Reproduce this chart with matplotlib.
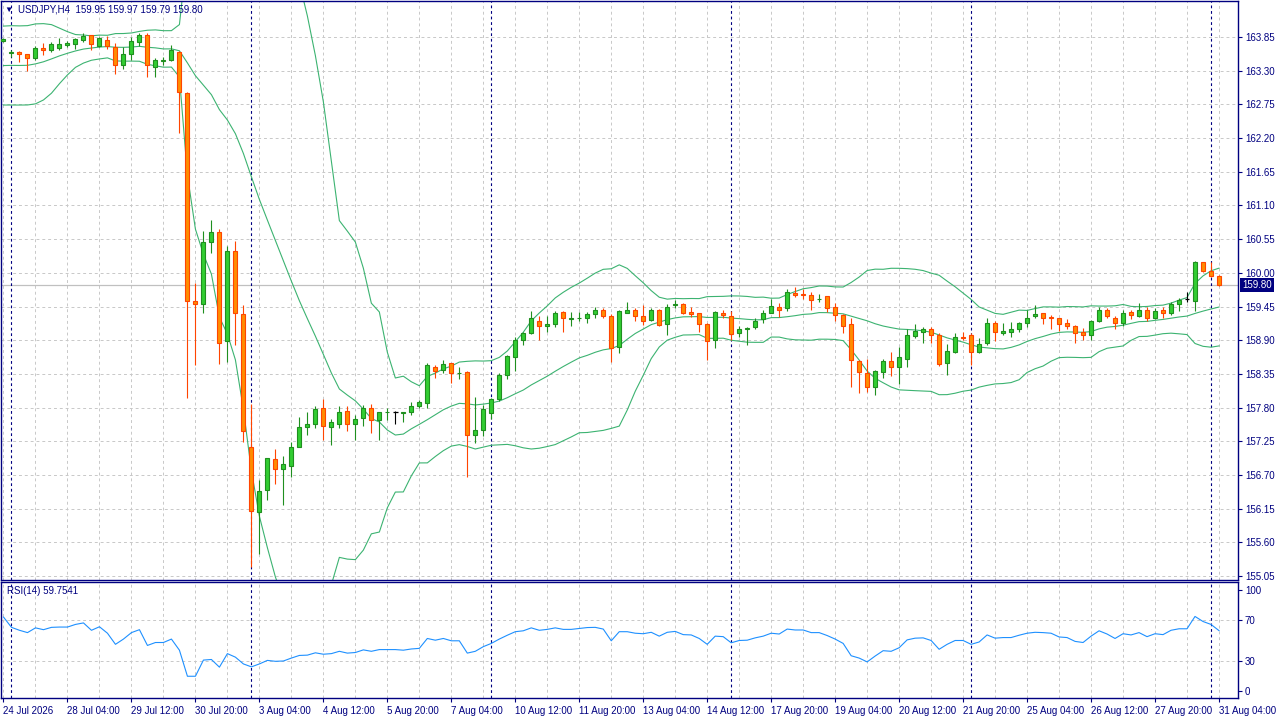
import numpy as np
import pandas as pd
import matplotlib
matplotlib.use("Agg")
import matplotlib.pyplot as plt
import matplotlib.transforms as mtransforms

plt.rcParams['font.family'] = ['Liberation Sans', 'DejaVu Sans']

symbol_title = "USDJPY,H4  159.95 159.97 159.79 159.80"
rsi_title = "RSI(14) 59.7541"
last_price = 159.80

opens = [163.78, 163.59, 163.61, 163.57, 163.50, 163.67, 163.64, 163.67, 163.72, 163.74,
         163.80, 163.88, 163.71, 163.80, 163.68, 163.40, 163.58, 163.77, 163.88, 163.36,
         163.46, 163.48, 163.61, 162.93, 159.54, 159.49, 160.51, 160.67, 158.88, 160.36,
         159.33, 157.15, 156.09, 156.45, 156.96, 156.80, 156.85, 157.16, 157.49, 157.53,
         157.79, 157.49, 157.54, 157.74, 157.54, 157.63, 157.79, 157.59, 157.72, 157.72,
         157.71, 157.72, 157.83, 157.87, 158.47, 158.41, 158.52, 158.36, 158.38, 157.36,
         157.44, 157.71, 157.94, 158.33, 158.63, 158.91, 159.01, 159.22, 159.13, 159.17,
         159.36, 159.25, 159.26, 159.27, 159.32, 159.40, 159.29, 158.79, 159.35, 159.40,
         159.29, 159.23, 159.40, 159.17, 159.47, 159.49, 159.36, 159.34, 159.17, 158.90,
         159.34, 159.29, 159.01, 159.09, 159.12, 159.24, 159.35, 159.45, 159.42, 159.67,
         159.66, 159.64, 159.57, 159.62, 159.44, 159.31, 159.16, 158.56, 158.36, 158.13,
         158.38, 158.56, 158.46, 158.60, 158.97, 159.03, 159.08, 158.99, 158.52, 158.71,
         158.96, 158.99, 158.71, 158.85, 159.18, 159.01, 159.04, 159.08, 159.18, 159.29,
         159.34, 159.28, 159.26, 159.18, 159.14, 159.03, 158.99, 159.22, 159.39, 159.27,
         159.18, 159.36, 159.30, 159.40, 159.27, 159.40, 159.34, 159.49, 159.57, 159.54,
         160.17, 160.03, 159.95]
highs = [163.83, 163.63, 163.62, 163.58, 163.71, 163.75, 163.77, 163.83, 163.79, 163.84,
         163.92, 163.89, 163.85, 163.87, 163.76, 163.69, 163.85, 163.91, 163.91, 163.50,
         163.53, 163.72, 163.62, 162.95, 159.83, 160.68, 160.86, 160.72, 160.44, 160.52,
         159.48, 157.86, 156.62, 156.98, 157.12, 157.01, 157.23, 157.65, 157.73, 157.83,
         157.94, 157.61, 157.83, 157.83, 157.68, 157.84, 157.86, 157.73, 157.80, 157.74,
         157.72, 157.89, 157.92, 158.53, 158.49, 158.57, 158.53, 158.46, 158.40, 157.97,
         157.85, 157.96, 158.36, 158.66, 158.95, 159.04, 159.37, 159.29, 159.29, 159.37,
         159.37, 159.36, 159.36, 159.36, 159.44, 159.42, 159.33, 159.39, 159.52, 159.42,
         159.47, 159.43, 159.41, 159.49, 159.56, 159.51, 159.44, 159.35, 159.18, 159.37,
         159.39, 159.38, 159.13, 159.12, 159.27, 159.39, 159.58, 159.50, 159.73, 159.77,
         159.73, 159.69, 159.66, 159.62, 159.50, 159.32, 159.26, 158.57, 158.59, 158.42,
         158.59, 158.71, 158.79, 159.08, 159.16, 159.11, 159.12, 159.02, 158.83, 159.01,
         159.03, 159.01, 158.94, 159.26, 159.21, 159.18, 159.19, 159.19, 159.39, 159.47,
         159.34, 159.31, 159.26, 159.25, 159.15, 159.10, 159.23, 159.44, 159.42, 159.29,
         159.39, 159.39, 159.51, 159.45, 159.43, 159.45, 159.52, 159.59, 159.68, 160.20,
         160.18, 160.18, 159.97]
lows = [163.77, 163.53, 163.44, 163.30, 163.47, 163.56, 163.61, 163.64, 163.68, 163.65,
        163.77, 163.63, 163.69, 163.66, 163.25, 163.32, 163.47, 163.71, 163.20, 163.19,
        163.40, 163.46, 162.29, 157.95, 158.50, 159.35, 160.33, 158.51, 158.55, 158.82,
        157.23, 155.20, 155.41, 156.29, 156.56, 156.21, 156.66, 157.15, 157.35, 157.47,
        157.27, 157.19, 157.46, 157.42, 157.27, 157.50, 157.39, 157.27, 157.59, 157.53,
        157.57, 157.68, 157.79, 157.80, 158.28, 158.36, 158.20, 158.26, 156.67, 157.22,
        157.34, 157.61, 157.90, 158.27, 158.39, 158.82, 159.00, 158.90, 159.04, 159.12,
        159.04, 159.14, 159.21, 159.18, 159.27, 159.27, 158.54, 158.69, 159.34, 159.22,
        159.15, 159.22, 159.14, 158.98, 159.42, 159.32, 159.28, 159.03, 158.58, 158.78,
        159.26, 158.91, 158.95, 158.82, 159.08, 159.18, 159.34, 159.28, 159.38, 159.60,
        159.57, 159.39, 159.52, 159.36, 159.22, 159.02, 158.14, 158.03, 158.06, 158.00,
        158.29, 158.32, 158.18, 158.47, 158.94, 158.85, 158.86, 158.48, 158.33, 158.69,
        158.90, 158.49, 158.69, 158.82, 158.88, 158.98, 158.96, 159.03, 159.11, 159.27,
        159.16, 159.09, 159.05, 159.09, 158.86, 158.91, 158.91, 159.20, 159.26, 159.09,
        159.13, 159.25, 159.28, 159.22, 159.25, 159.27, 159.31, 159.38, 159.53, 159.37,
        160.02, 159.94, 159.79]
closes = [163.82, 163.61, 163.57, 163.50, 163.67, 163.63, 163.74, 163.74, 163.75, 163.81,
          163.87, 163.73, 163.83, 163.70, 163.40, 163.57, 163.78, 163.88, 163.39, 163.47,
          163.47, 163.63, 162.95, 159.54, 159.49, 160.51, 160.66, 158.86, 160.35, 159.35,
          157.41, 156.11, 156.43, 156.97, 156.79, 156.88, 157.15, 157.48, 157.53, 157.78,
          157.50, 157.56, 157.72, 157.54, 157.62, 157.80, 157.60, 157.72, 157.73, 157.72,
          157.72, 157.83, 157.89, 158.49, 158.39, 158.51, 158.36, 158.37, 157.36, 157.43,
          157.77, 157.94, 158.33, 158.65, 158.91, 159.01, 159.27, 159.13, 159.17, 159.34,
          159.26, 159.26, 159.27, 159.33, 159.39, 159.30, 158.78, 159.38, 159.40, 159.30,
          159.22, 159.39, 159.15, 159.45, 159.49, 159.35, 159.32, 159.16, 158.88, 159.36,
          159.31, 159.00, 159.09, 159.10, 159.22, 159.34, 159.46, 159.40, 159.68, 159.64,
          159.64, 159.55, 159.58, 159.43, 159.31, 159.14, 158.57, 158.38, 158.14, 158.40,
          158.56, 158.47, 158.62, 158.98, 159.05, 159.08, 158.98, 158.51, 158.73, 158.95,
          158.94, 158.70, 158.83, 159.18, 159.03, 159.05, 159.08, 159.18, 159.27, 159.32,
          159.27, 159.26, 159.16, 159.14, 159.01, 158.99, 159.21, 159.40, 159.29, 159.18,
          159.34, 159.31, 159.39, 159.26, 159.38, 159.35, 159.49, 159.56, 159.57, 160.18,
          160.03, 159.95, 159.80]

# closes before the visible window (estimated from where the bands start)
hist_close = [163.55, 163.60, 163.45, 163.20, 162.95, 162.80, 162.75, 162.90, 163.05, 163.25,
              163.40, 163.50, 163.55, 163.62, 163.60, 163.68, 163.65, 163.70, 163.66]

rsi = [73.2, 63, 60.1, 57.8, 62.5, 60.7, 63, 63.3, 63.3, 65.9,
       67.4, 60.1, 63.6, 57.2, 46.2, 51.4, 57.8, 60.7, 45.1, 48,
       48, 51.4, 40.4, 14.6, 14.6, 30.6, 31.2, 23.6, 37, 33.5,
       26.8, 23.9, 26.8, 30.3, 29.4, 29.7, 32.6, 35.2, 35.5, 37.8,
       36.4, 37, 39.3, 37.5, 38.1, 40.7, 39.3, 41, 41, 41,
       40.4, 41.6, 42.2, 52, 50.3, 52, 49.7, 49.7, 37.5, 39.3,
       43.9, 47.1, 51.4, 55.2, 58.7, 59.6, 62.5, 60.1, 61, 62.5,
       61, 61, 61.9, 62.8, 63, 61.3, 49.7, 58.7, 58.7, 57.2,
       56.7, 58.1, 54.3, 58.1, 59, 55.8, 55.5, 52, 46.2, 54.3,
       53.8, 47.7, 50, 50.3, 52.6, 54.3, 57.2, 56.4, 61.3, 60.4,
       60.4, 57.8, 57.8, 54.9, 51.4, 47.1, 34.9, 32.6, 28.8, 34.6,
       39.9, 39.3, 42.8, 50.6, 52.3, 52.6, 50, 41.3, 46.2, 50,
       50, 46.2, 48.5, 55.5, 52.3, 52.9, 52.9, 55.2, 57.2, 58.1,
       57.8, 57.2, 53.5, 52.9, 49.1, 48, 54.3, 59.6, 56.4, 52,
       56.7, 55.5, 57.8, 53.8, 56.7, 55.8, 60.1, 61.6, 61.6, 73.8,
       68.8, 65.9, 59.75]

price_ticks = [155.05, 155.60, 156.15, 156.70, 157.25, 157.80, 158.35, 158.90, 159.45,
               160.00, 160.55, 161.10, 161.65, 162.20, 162.75, 163.30, 163.85]
rsi_ticks = [0, 30, 70, 100]
rsi_levels = [30, 70]
x_label_pos = [0, 8, 16, 24, 32, 40, 48, 56, 64, 72, 80, 88, 96, 104, 112, 120, 128, 136, 144, 152]
x_labels = ["24 Jul 2026", "28 Jul 04:00", "29 Jul 12:00", "30 Jul 20:00", "3 Aug 04:00",
            "4 Aug 12:00", "5 Aug 20:00", "7 Aug 04:00", "10 Aug 12:00", "11 Aug 20:00",
            "13 Aug 04:00", "14 Aug 12:00", "17 Aug 20:00", "19 Aug 04:00", "20 Aug 12:00",
            "21 Aug 20:00", "25 Aug 04:00", "26 Aug 12:00", "27 Aug 20:00", "31 Aug 04:00"]
week_separators = [1, 31, 61, 91, 121, 151]
grid_step_bars = 4

NAVY = "#000080"
GRID = "#c8c8c8"
BULL_FILL, BULL_EDGE = "#32CD32", "#1f8f1f"
BEAR_FILL, BEAR_EDGE = "#FF8C00", "#FF4500"
BAND = "#3CB371"
RSI_COL = "#1E90FF"

o = np.array(opens); h = np.array(highs); l = np.array(lows); c = np.array(closes)
n = len(c)
x = np.arange(n)

# Bollinger bands (20, 2)
s = pd.Series(hist_close + closes)
mid = s.rolling(20).mean().to_numpy()[-n:]
sd = s.rolling(20).std(ddof=0).to_numpy()[-n:]
upper = mid + 2 * sd
lower = mid - 2 * sd

W, H = 1280, 720
def rect(x0, y0, x1, y1):
    return [x0 / W, 1 - y1 / H, (x1 - x0) / W, (y1 - y0) / H]

fig = plt.figure(figsize=(12.8, 7.2), dpi=100)
fig.patch.set_facecolor("white")
ax = fig.add_axes(rect(0.5, 1, 1238, 580))
axr = fig.add_axes(rect(0.5, 582, 1238, 698))

xlim = (-0.375, 154.375)
for a in (ax, axr):
    a.set_xlim(*xlim)
    for sp in a.spines.values():
        sp.set_color(NAVY)
        sp.set_linewidth(1.0)
    a.set_facecolor("white")
    for gx in range(0, n + 2, grid_step_bars):
        a.axvline(gx, color=GRID, lw=0.7, ls=(0, (3, 3)), zorder=0)
    for sx in week_separators:
        a.axvline(sx, color=NAVY, lw=0.8, ls=(0, (2.5, 2.5)), zorder=1)

ax.set_ylim(154.985, 164.438)
for p in price_ticks:
    ax.axhline(p, color=GRID, lw=0.7, ls=(0, (3, 3)), zorder=0)
ax.axhline(last_price, color="#c0c0c0", lw=0.9, zorder=0.5)

# bands
ax.plot(x, upper, color=BAND, lw=0.8, zorder=2)
ax.plot(x, mid, color=BAND, lw=0.8, zorder=2)
ax.plot(x, lower, color=BAND, lw=0.8, zorder=2)

bull = c > o
bear = c < o
doji = c == o
wick_cols = np.where(bull, BULL_EDGE, np.where(bear, BEAR_EDGE, "black"))
ax.vlines(x, l, h, colors=list(wick_cols), lw=0.8, zorder=3)
body_low = np.minimum(o, c)
body_h = np.maximum(np.abs(c - o), 0.008)
ax.bar(x[bull], body_h[bull], bottom=body_low[bull], width=0.5,
       color=BULL_FILL, edgecolor=BULL_EDGE, linewidth=0.8, zorder=4)
ax.bar(x[bear], body_h[bear], bottom=body_low[bear], width=0.5,
       color=BEAR_FILL, edgecolor=BEAR_EDGE, linewidth=0.8, zorder=4)
ax.hlines(c[doji], x[doji] - 0.3, x[doji] + 0.3, colors="black", lw=0.9, zorder=4)

ax.yaxis.tick_right()
ax.set_yticks(price_ticks)
ax.set_yticklabels([f"{p:.2f}" for p in price_ticks])
ax.tick_params(axis="y", direction="out", length=3, width=0.8, pad=2,
               colors=NAVY, labelsize=7, labelcolor=NAVY)
ax.set_xticks([])

trans = mtransforms.blended_transform_factory(ax.transAxes, ax.transData)
ax.text(1.0035, last_price, f"{last_price:.2f}", transform=trans, color="white",
        fontsize=7, va="center", ha="left", zorder=10,
        bbox=dict(facecolor=NAVY, edgecolor="none", pad=1.6))

# RSI panel
axr.set_ylim(-6.93, 107.9)
for lv in rsi_levels:
    axr.axhline(lv, color=GRID, lw=0.7, ls=(0, (3, 3)), zorder=0)
axr.plot(x, rsi, color=RSI_COL, lw=0.8, zorder=3)
axr.yaxis.tick_right()
axr.set_yticks(rsi_ticks)
axr.set_yticklabels([str(t) for t in rsi_ticks])
axr.tick_params(axis="y", direction="out", length=3, width=0.8, pad=2,
                colors=NAVY, labelsize=7, labelcolor=NAVY)
axr.set_xticks(x_label_pos)
axr.set_xticklabels(x_labels, ha="left")
axr.tick_params(axis="x", direction="out", length=3, width=0.8, pad=3,
                colors=NAVY, labelsize=7, labelcolor=NAVY)
for lab in axr.get_xticklabels():
    lab.set_x(lab.get_position()[0])

axr.text(7 / 1238, (698 - 591) / 116, rsi_title, transform=axr.transAxes,
         fontsize=7, color=NAVY, va="center", ha="left")

fig.text(18 / W, 1 - 10 / H, symbol_title, fontsize=7, color=NAVY, va="center", ha="left")
fig.text(8 / W, 1 - 10 / H, "\u25BC", fontsize=6, color=NAVY, va="center", ha="center")

fig.savefig("out.png", dpi=100, facecolor="white")
